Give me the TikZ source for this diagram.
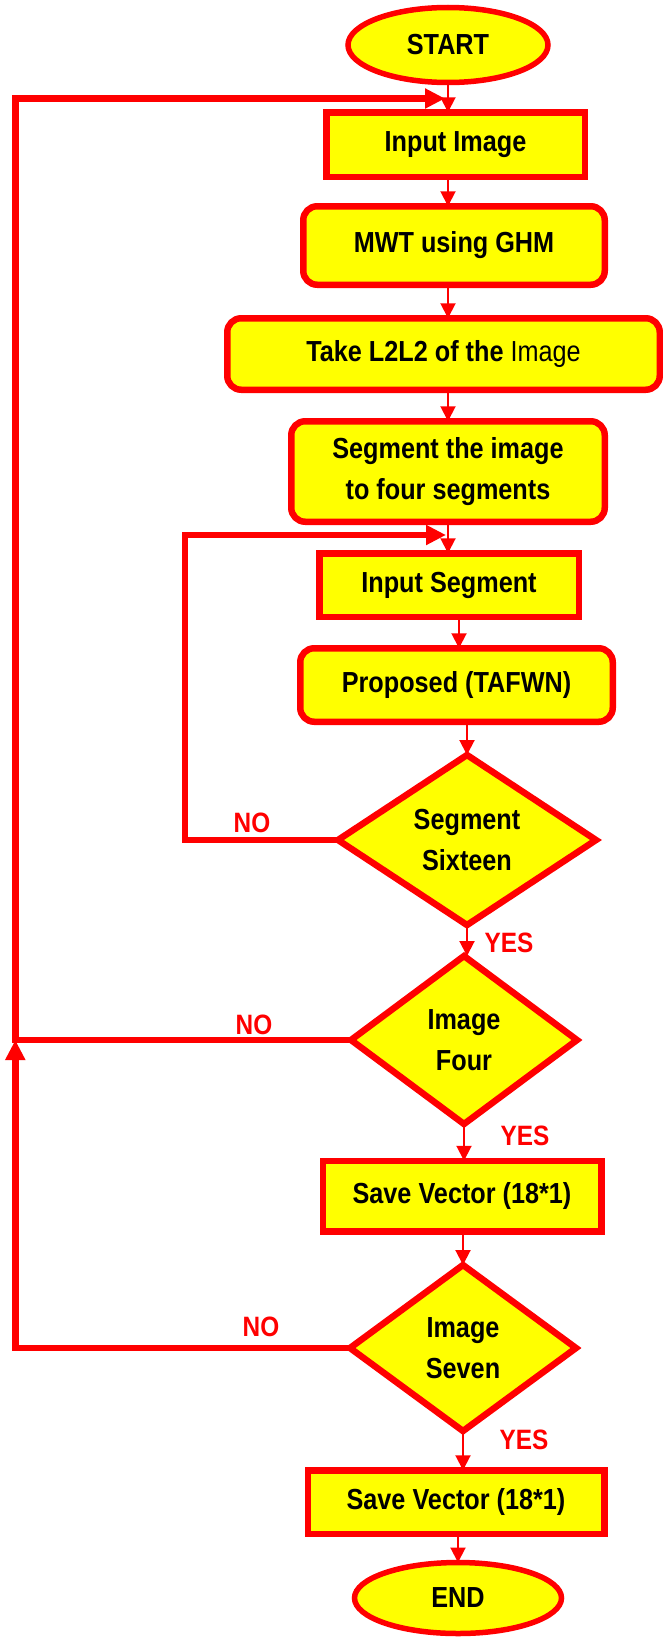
\documentclass[tikz,border=0pt]{standalone}
\usepackage{fontspec}
\setmainfont{Liberation Sans}[FakeStretch=0.87]
\usetikzlibrary{shapes.geometric,arrows.meta}
\definecolor{flowred}{HTML}{FF0000}
\definecolor{flowyellow}{HTML}{FFFF00}
\begin{document}
\begin{tikzpicture}[x=1pt,y=-1pt,
  base/.style={draw=flowred, fill=flowyellow, line width=6.5pt, inner sep=0pt,
    outer sep=0pt, align=center, text=black,
    font=\fontsize{29}{41}\selectfont\bfseries},
  procbox/.style={base, rectangle},
  roundbox/.style={base, rectangle, rounded corners=14pt},
  termbox/.style={base, ellipse, line width=5.5pt},
  decision/.style={base, diamond},
  flow/.style={draw=flowred, line width=2pt, -{Triangle[width=15pt,length=15pt]}},
  loopline/.style={draw=flowred, line width=6.5pt, line join=miter,
    -{Triangle[width=19pt,length=20pt]}},
  lab/.style={text=flowred, inner sep=0pt, font=\fontsize{28}{30}\selectfont\bfseries}
]
\useasboundingbox[fill=white] (0,0) rectangle (663,1638);

% main column
\node[termbox, minimum width=200pt, minimum height=75pt] (start) at (448,45) {START};
\node[procbox, minimum width=258.5pt, minimum height=64.5pt] (inimg) at (455.5,144.5) {Input Image};
\node[roundbox, minimum width=301.5pt, minimum height=78.5pt] (mwt) at (454,245.5) {MWT using GHM};
\node[roundbox, minimum width=432.5pt, minimum height=71.5pt] (take) at (443.5,354) {Take L2L2 of the {\mdseries Image}};
\node[roundbox, minimum width=313.5pt, minimum height=100.5pt] (seg) at (448,471.5) {Segment the image\\to four segments};
\node[procbox, minimum width=259.5pt, minimum height=63.5pt] (inseg) at (449,585) {Input Segment};
\node[roundbox, minimum width=312.5pt, minimum height=73.5pt] (prop) at (456.5,685) {Proposed (TAFWN)};
\node[decision, minimum width=258pt, minimum height=170pt] (d16) at (467,840) {Segment\\Sixteen};
\node[decision, minimum width=226pt, minimum height=168pt] (d4) at (464,1040) {Image\\Four};
\node[procbox, minimum width=278.5pt, minimum height=70.5pt] (sv1) at (462,1196) {Save Vector (18*1)};
\node[decision, minimum width=226pt, minimum height=166pt] (d7) at (463,1348) {Image\\Seven};
\node[procbox, minimum width=296.5pt, minimum height=63.5pt] (sv2) at (456,1502) {Save Vector (18*1)};
\node[termbox, minimum width=207pt, minimum height=71pt] (end) at (458,1598) {END};

% straight flow
\draw[flow] (start.south) -- (inimg.north -| start.south);
\draw[flow] (inimg.south -| start.south) -- (mwt.north -| start.south);
\draw[flow] (mwt.south -| start.south) -- (take.north -| start.south);
\draw[flow] (take.south -| start.south) -- (seg.north -| start.south);
\draw[flow] (seg.south -| start.south) -- (inseg.north -| start.south);
\draw[flow] ([xshift=10pt]inseg.south) -- ([xshift=10pt]inseg.south |- prop.north);
\draw[flow] (prop.south -| d16.north) -- (d16.north);
\draw[flow] (d16.south) -- (d16.south |- d4.north);
\draw[flow] (d4.south) -- (d4.south |- sv1.north);
\draw[flow] (d7.north |- sv1.south) -- (d7.north);
\draw[flow] (d7.south) -- (d7.south |- sv2.north);
\draw[flow] (end.north |- sv2.south) -- (end.north);

% feedback loops
\coordinate (segin) at (446,535);
\coordinate (segcorner) at (185,535);
\coordinate (imgin) at (445,98.5);
\coordinate (railtop) at (15.3,98.5);
\draw[loopline] (d16.west) -| (segcorner) -- (segin);
\draw[loopline] (d4.west) -| (railtop) -- (imgin);
\draw[loopline] (d7.west) -| (d4.west -| railtop);

% branch labels
\node[lab] (no16) at (252,823) {NO};
\node[lab] (no4) at (254,1025) {NO};
\node[lab] (no7) at (261,1327) {NO};
\node[lab] (yes16) at (509,943) {YES};
\node[lab] (yes4) at (525,1136) {YES};
\node[lab] (yes7) at (524,1440) {YES};
\end{tikzpicture}
\end{document}
